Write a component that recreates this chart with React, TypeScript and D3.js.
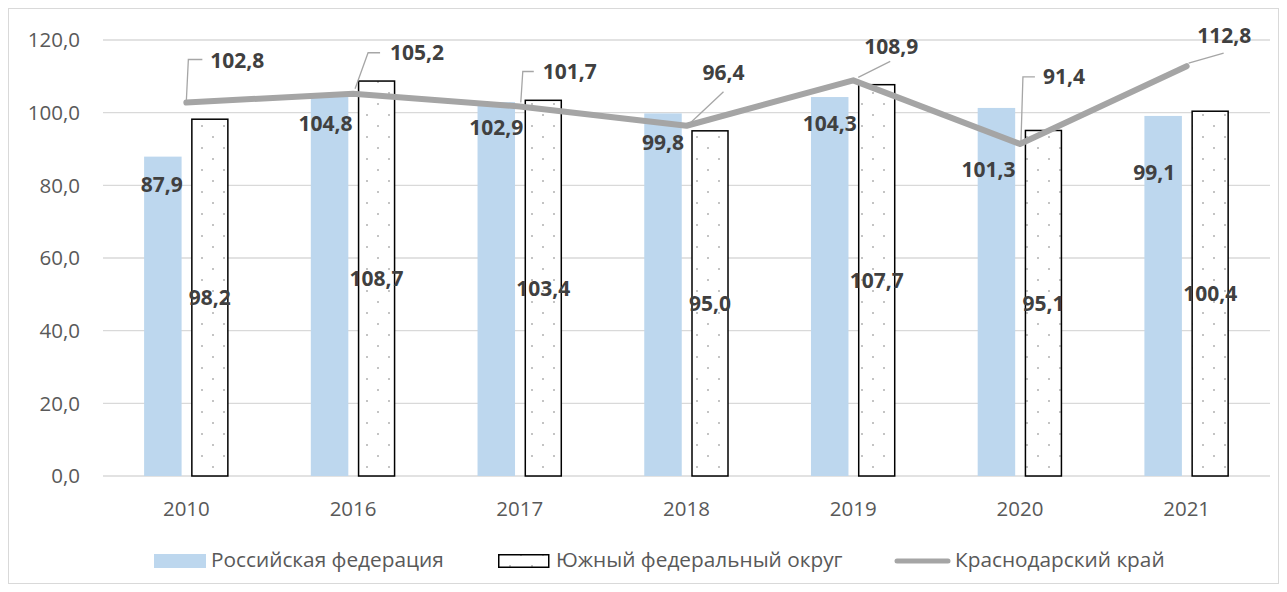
import React from "react";
import * as d3 from "d3";

const years = ["2010", "2016", "2017", "2018", "2019", "2020", "2021"];
const russia = [87.9, 104.8, 102.9, 99.8, 104.3, 101.3, 99.1];
const south = [98.2, 108.7, 103.4, 95.0, 107.7, 95.1, 100.4];
const krasnodar = [102.8, 105.2, 101.7, 96.4, 108.9, 91.4, 112.8];
const yTicks = [0, 20, 40, 60, 80, 100, 120];
const seriesNames = ["Российская федерация", "Южный федеральный округ", "Краснодарский край"];

// label layout (pixel offsets only)
const russiaLabelShift: [number, number][] = [[-1, 28], [-4, 28], [0, 26], [0, 29], [0, 27], [-8, 62], [-9, 57]];
type LeaderCfg = { leader: [number, number][]; tx: number; ty: number; anchor: string };
const krasLabelLayout: LeaderCfg[] = [
  { leader: [[0, -2], [2, -43], [16, -43]], tx: 24, ty: -42, anchor: "start" },
  { leader: [[2, -5], [15, -41], [27, -41]], tx: 37, ty: -41, anchor: "start" },
  { leader: [[1, -4], [3, -35], [14, -35]], tx: 23, ty: -34.5, anchor: "start" },
  { leader: [[4, -3], [37, -34]], tx: 37, ty: -53, anchor: "middle" },
  { leader: [[5, -3], [37, -19]], tx: 38, ty: -34, anchor: "middle" },
  { leader: [[1, -1], [3, -67], [15, -67]], tx: 23, ty: -67, anchor: "start" },
  { leader: [[2, -3], [37, -13]], tx: 37.5, ty: -31, anchor: "middle" },
];

const W = 1287;
const H = 592;
const plotL = 103;
const plotR = 1270;
const yTop = 40;
const yBottom = 476;
const FONT = "'Open Sans', 'Noto Sans', sans-serif";
const fmt = (v: number) => v.toFixed(1).replace(".", ",");

export default function App() {
  const x = d3.scaleBand<string>().domain(years).range([plotL, plotR]).padding(0);
  const y = d3.scaleLinear().domain([0, 120]).range([yBottom, yTop]);
  const bw = x.bandwidth();
  const barW = 37.5;
  const halfGap = 4.75;
  const cx = (i: number) => (x(years[i]) as number) + bw / 2;

  const line = d3
    .line<number>()
    .x((_, i) => cx(i))
    .y((d) => y(d));

  return (
    <svg
      width={W}
      height={H}
      style={{ position: "absolute", left: 0, top: 0, background: "#fff" }}
      fontFamily={FONT}
    >
      <defs>
        <pattern id="dots" patternUnits="userSpaceOnUse" width={22} height={22} x={3} y={15}>
          <rect x={0} y={0} width={22} height={22} fill="#fff" />
          <rect x={0} y={0} width={2} height={2} fill="#c4c4c4" />
          <rect x={11} y={11} width={2} height={2} fill="#c4c4c4" />
        </pattern>
      </defs>
      <rect x={8.5} y={8.5} width={1270} height={575} fill="#fff" stroke="#d9d9d9" strokeWidth={1} />

      {/* gridlines */}
      {yTicks.map((t) => (
        <line key={t} x1={plotL} x2={plotR} y1={y(t)} y2={y(t)} stroke="#d9d9d9" strokeWidth={1.3} />
      ))}
      {/* y tick labels */}
      {yTicks.map((t) => (
        <text key={"yl" + t} x={80} y={y(t)} dy="0.35em" textAnchor="end" fontSize={20.5} fill="#595959">
          {fmt(t)}
        </text>
      ))}
      {/* x labels */}
      {years.map((yr, i) => (
        <text key={yr} x={cx(i)} y={509} dy="0.35em" textAnchor="middle" fontSize={20.5} fill="#595959">
          {yr}
        </text>
      ))}

      {/* Russia bars */}
      {russia.map((v, i) => (
        <rect key={"r" + i} x={cx(i) - halfGap - barW} y={y(v)} width={barW} height={yBottom - y(v)} fill="#bdd7ee" />
      ))}
      {/* South bars */}
      {south.map((v, i) => (
        <rect
          key={"s" + i}
          x={cx(i) + halfGap + 0.75}
          y={y(v)}
          width={barW - 1.5}
          height={yBottom - y(v)}
          fill="url(#dots)"
          stroke="#000"
          strokeWidth={1.5}
        />
      ))}

      {/* Krasnodar line */}
      <path d={line(krasnodar) as string} fill="none" stroke="#a5a5a5" strokeWidth={6} strokeLinejoin="round" strokeLinecap="round" />

      {/* Russia labels */}
      {russia.map((v, i) => (
        <text
          key={"rl" + i}
          x={cx(i) - halfGap - barW / 2 + russiaLabelShift[i][0]}
          y={y(v) + russiaLabelShift[i][1]}
          dy="0.35em"
          textAnchor="middle"
          fontSize={21}
          fontWeight="bold"
          fill="#404040"
        >
          {fmt(v)}
        </text>
      ))}
      {/* South labels */}
      {south.map((v, i) => (
        <text
          key={"sl" + i}
          x={cx(i) + halfGap + barW / 2}
          y={(y(v) + yBottom) / 2}
          dy="0.35em"
          textAnchor="middle"
          fontSize={21}
          fontWeight="bold"
          fill="#404040"
        >
          {fmt(v)}
        </text>
      ))}
      {/* Krasnodar labels with leaders */}
      {krasnodar.map((v, i) => {
        const px = cx(i);
        const py = y(v);
        const cfg = krasLabelLayout[i];
        const pts = cfg.leader.map(([dx, dy]) => `${px + dx},${py + dy}`).join(" ");
        return (
          <g key={"kl" + i}>
            <polyline points={pts} fill="none" stroke="#a6a6a6" strokeWidth={1.3} />
            <text
              x={px + cfg.tx}
              y={py + cfg.ty}
              dy="0.35em"
              textAnchor={cfg.anchor as any}
              fontSize={21}
              fontWeight="bold"
              fill="#404040"
            >
              {fmt(v)}
            </text>
          </g>
        );
      })}

      {/* Legend */}
      <g>
        <rect x={154} y={554} width={52} height={14} fill="#bdd7ee" />
        <text x={211} y={560} dy="0.35em" fontSize={20.8} fill="#595959">
          {seriesNames[0]}
        </text>
        <rect x={498.75} y={554.75} width={50} height={12.5} fill="url(#dots)" stroke="#000" strokeWidth={1.5} />
        <text x={556} y={560} dy="0.35em" fontSize={20.8} fill="#595959">
          {seriesNames[1]}
        </text>
        <line x1={897} x2={948} y1={561} y2={561} stroke="#a5a5a5" strokeWidth={5} strokeLinecap="round" />
        <text x={955} y={560} dy="0.35em" fontSize={20.8} fill="#595959">
          {seriesNames[2]}
        </text>
      </g>
    </svg>
  );
}
